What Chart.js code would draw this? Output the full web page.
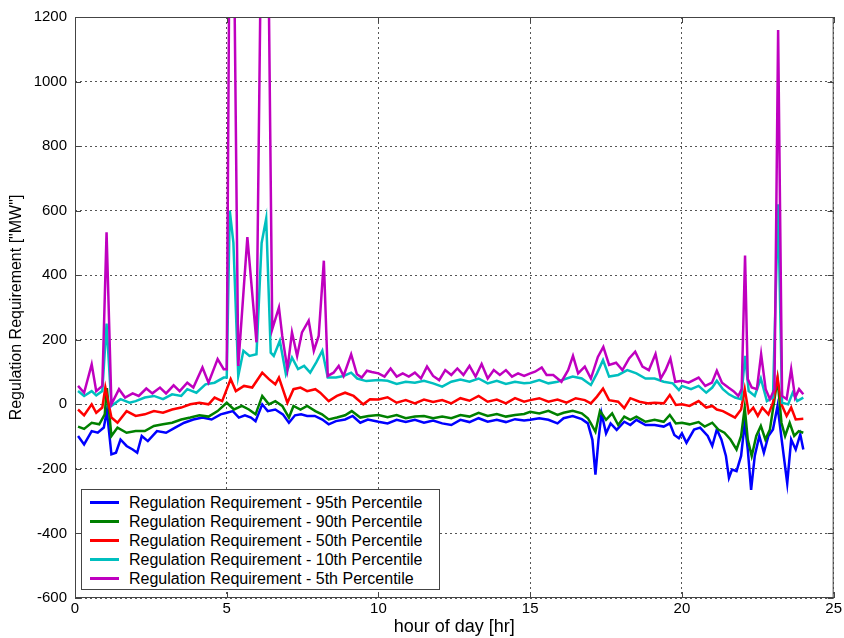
<!DOCTYPE html>
<html>
<head>
<meta charset="utf-8">
<script src="https://cdn.jsdelivr.net/npm/chart.js@4.4.1/dist/chart.umd.min.js"></script>
<style>
  body { margin: 0; background: #fff; }
  #wrap { position: relative; width: 844px; height: 638px; }
  #legend {
    position: absolute; left: 81px; top: 489px; width: 359px; height: 101px;
    border: 1px solid #444; background: #fff; box-sizing: border-box;
    font-family: "Liberation Sans", Arial, sans-serif; font-size: 16px; color: #000;
    padding-top: 3px;
  }
  #legend div { height: 19px; line-height: 19px; display: flex; align-items: center; white-space: nowrap; }
  #legend span.swatch { display: inline-block; width: 29px; height: 3px; margin-left: 8px; margin-right: 10px; }
</style>
</head>
<body>
<div id="wrap">
  <canvas id="reg" width="844" height="638"></canvas>
  <div id="legend"></div>
</div>
<script>
// [hour, MW] pairs
const p95 = [[0.1,-98],[0.3,-124],[0.55,-83],[0.75,-88],[0.95,-72],[1.05,-20],[1.2,-155],[1.35,-150],[1.5,-109],[1.7,-129],[1.9,-140],[2.05,-150],[2.2,-98],[2.4,-114],[2.7,-83],[3.0,-88],[3.3,-72],[3.6,-57],[3.9,-47],[4.2,-41],[4.5,-47],[4.8,-31],[5.0,-26],[5.2,-21],[5.4,-41],[5.6,-34],[5.8,-41],[5.95,-52],[6.17,0],[6.35,-21],[6.6,-16],[6.85,-31],[7.05,-57],[7.25,-34],[7.45,-31],[7.65,-36],[7.9,-36],[8.15,-47],[8.36,-62],[8.6,-52],[8.9,-47],[9.15,-36],[9.4,-57],[9.65,-47],[10.0,-54],[10.3,-59],[10.6,-48],[10.9,-55],[11.2,-48],[11.5,-57],[11.8,-50],[12.1,-59],[12.4,-64],[12.7,-48],[13.0,-55],[13.3,-43],[13.6,-54],[13.9,-48],[14.2,-55],[14.5,-46],[14.8,-50],[15.0,-48],[15.3,-43],[15.6,-48],[15.9,-59],[16.1,-43],[16.4,-36],[16.7,-46],[16.9,-59],[17.05,-110],[17.15,-218],[17.25,-110],[17.35,-28],[17.5,-90],[17.65,-59],[17.85,-79],[18.1,-54],[18.3,-64],[18.5,-48],[18.8,-64],[19.1,-64],[19.4,-69],[19.6,-59],[19.75,-95],[19.9,-105],[20.0,-90],[20.15,-119],[20.4,-78],[20.6,-72],[20.85,-98],[21.0,-129],[21.15,-78],[21.3,-109],[21.45,-160],[21.55,-228],[21.65,-202],[21.8,-207],[21.95,-160],[22.07,-57],[22.17,-140],[22.28,-265],[22.4,-160],[22.55,-98],[22.7,-150],[22.85,-98],[23.0,-78],[23.15,-5],[23.3,-119],[23.47,-245],[23.6,-109],[23.75,-140],[23.9,-93],[24.0,-140]];
const p90 = [[0.1,-69],[0.3,-76],[0.55,-57],[0.8,-62],[0.98,-31],[1.05,50],[1.2,-98],[1.4,-72],[1.7,-88],[2.0,-83],[2.3,-83],[2.6,-67],[2.9,-62],[3.2,-57],[3.5,-47],[3.8,-41],[4.1,-34],[4.4,-38],[4.7,-21],[5.0,5],[5.24,-16],[5.5,-5],[5.73,-16],[5.95,-31],[6.17,26],[6.39,0],[6.6,10],[6.83,-5],[7.05,-41],[7.2,-5],[7.43,-16],[7.65,-5],[7.92,-21],[8.14,-31],[8.36,-47],[8.63,-41],[8.9,-34],[9.12,-21],[9.4,-41],[9.67,-36],[10.0,-33],[10.3,-40],[10.6,-33],[10.9,-43],[11.2,-38],[11.5,-36],[11.8,-43],[12.1,-38],[12.4,-43],[12.7,-33],[13.0,-38],[13.3,-26],[13.6,-36],[13.9,-30],[14.2,-38],[14.5,-33],[14.8,-30],[15.0,-23],[15.3,-28],[15.6,-20],[15.9,-33],[16.1,-26],[16.4,-20],[16.7,-28],[16.9,-43],[17.0,-59],[17.15,-85],[17.3,-20],[17.5,-48],[17.7,-28],[17.9,-64],[18.1,-38],[18.3,-48],[18.5,-38],[18.8,-54],[19.1,-48],[19.4,-54],[19.6,-33],[19.8,-59],[20.0,-57],[20.25,-62],[20.55,-55],[20.75,-69],[21.0,-57],[21.2,-78],[21.4,-88],[21.6,-109],[21.8,-140],[21.95,-98],[22.07,-10],[22.17,-109],[22.3,-160],[22.45,-98],[22.6,-67],[22.75,-109],[22.9,-78],[23.15,78],[23.28,-57],[23.4,-98],[23.55,-57],[23.7,-98],[23.85,-83],[24.0,-88]];
const p50 = [[0.1,-16],[0.3,-34],[0.55,0],[0.7,-26],[0.9,-10],[1.0,52],[1.2,-41],[1.4,-57],[1.7,-21],[2.0,-36],[2.3,-31],[2.6,-21],[2.9,-26],[3.2,-16],[3.5,-10],[3.8,0],[4.1,5],[4.4,0],[4.6,21],[4.85,10],[5.13,78],[5.3,41],[5.57,57],[5.84,52],[6.17,98],[6.39,78],[6.6,62],[6.72,83],[7.0,5],[7.2,47],[7.43,52],[7.65,41],[7.92,47],[8.08,36],[8.36,10],[8.63,26],[8.9,36],[9.18,26],[9.5,0],[9.72,16],[10.0,15],[10.3,22],[10.6,5],[10.9,13],[11.2,3],[11.5,15],[11.8,7],[12.1,13],[12.4,3],[12.7,19],[13.0,11],[13.3,26],[13.6,8],[13.9,15],[14.2,3],[14.5,19],[14.8,8],[15.0,13],[15.3,19],[15.6,8],[15.9,15],[16.2,5],[16.5,19],[16.8,13],[17.0,3],[17.2,24],[17.4,49],[17.6,13],[17.9,8],[18.1,-12],[18.3,19],[18.6,8],[18.9,3],[19.1,5],[19.4,3],[19.6,29],[19.8,-2],[20.0,0],[20.25,-5],[20.55,10],[20.8,-10],[21.0,-5],[21.15,-16],[21.35,-21],[21.55,-31],[21.75,-41],[21.95,-16],[22.07,47],[22.2,-26],[22.35,-10],[22.5,-36],[22.65,-10],[22.85,-31],[23.0,5],[23.15,83],[23.28,0],[23.45,-36],[23.6,-10],[23.75,-47],[24.0,-45]];
const p10 = [[0.1,41],[0.3,26],[0.55,41],[0.7,28],[0.9,41],[1.04,250],[1.2,-5],[1.5,16],[1.8,5],[2.0,10],[2.3,21],[2.6,26],[2.9,16],[3.2,31],[3.5,26],[3.7,47],[4.0,36],[4.3,62],[4.6,67],[4.9,83],[5.0,83],[5.1,600],[5.22,500],[5.38,88],[5.55,166],[5.75,150],[5.98,155],[6.15,500],[6.3,575],[6.45,160],[6.55,150],[6.75,197],[6.95,93],[7.15,145],[7.35,109],[7.55,119],[7.75,98],[7.95,130],[8.15,166],[8.33,83],[8.6,83],[8.85,88],[9.1,98],[9.3,80],[9.6,72],[10.0,75],[10.3,73],[10.6,63],[10.9,70],[11.2,67],[11.5,73],[11.8,65],[12.1,55],[12.4,70],[12.7,77],[13.0,70],[13.3,80],[13.6,65],[13.9,73],[14.2,63],[14.5,70],[14.8,65],[15.0,67],[15.3,75],[15.6,65],[15.9,70],[16.1,77],[16.4,86],[16.7,80],[17.0,60],[17.2,96],[17.4,137],[17.6,86],[17.9,91],[18.2,106],[18.5,96],[18.8,80],[19.1,80],[19.4,70],[19.7,65],[19.9,44],[20.0,57],[20.3,47],[20.55,57],[20.8,36],[21.0,52],[21.15,73],[21.35,47],[21.55,31],[21.75,21],[21.95,16],[22.08,150],[22.2,41],[22.4,26],[22.6,80],[22.8,10],[23.0,21],[23.17,620],[23.3,5],[23.5,0],[23.65,36],[23.8,10],[24.0,21]];
const p5 = [[0.1,57],[0.3,36],[0.55,124],[0.7,41],[0.9,57],[1.04,533],[1.2,0],[1.45,47],[1.65,21],[1.9,34],[2.1,26],[2.35,49],[2.55,34],[2.8,52],[3.0,34],[3.25,59],[3.45,41],[3.7,67],[3.9,52],[4.2,114],[4.4,67],[4.7,140],[4.9,109],[5.0,109],[5.1,1600],[5.22,1600],[5.38,119],[5.68,518],[5.98,192],[6.15,1600],[6.35,1600],[6.5,233],[6.72,300],[6.83,212],[7.0,109],[7.15,223],[7.32,150],[7.48,223],[7.7,259],[7.87,166],[8.03,212],[8.2,445],[8.33,88],[8.52,98],[8.69,119],[8.85,88],[9.1,155],[9.29,93],[9.45,83],[9.62,104],[9.78,100],[10.0,96],[10.2,86],[10.4,111],[10.6,86],[10.8,96],[11.0,86],[11.2,98],[11.4,80],[11.6,117],[11.8,88],[12.0,75],[12.2,106],[12.4,91],[12.6,111],[12.8,91],[13.0,119],[13.2,86],[13.4,125],[13.6,80],[13.8,106],[14.0,91],[14.2,106],[14.4,86],[14.6,96],[14.8,88],[15.0,96],[15.16,101],[15.38,114],[15.54,91],[15.76,91],[16.03,70],[16.25,106],[16.41,150],[16.58,96],[16.8,117],[17.0,80],[17.23,147],[17.41,178],[17.6,122],[17.83,129],[18.04,106],[18.26,142],[18.46,163],[18.7,117],[18.91,106],[19.13,156],[19.3,80],[19.46,106],[19.62,142],[19.78,70],[20.0,73],[20.22,67],[20.55,83],[20.77,57],[20.99,67],[21.15,104],[21.32,67],[21.53,52],[21.7,41],[21.86,26],[21.97,47],[22.08,461],[22.17,78],[22.3,52],[22.47,47],[22.61,155],[22.76,47],[22.9,16],[23.05,47],[23.17,1160],[23.3,26],[23.45,16],[23.6,109],[23.73,21],[23.86,47],[24.0,31]];

const seriesLabels = [
  "Regulation Requirement - 95th Percentile",
  "Regulation Requirement - 90th Percentile",
  "Regulation Requirement - 50th Percentile",
  "Regulation Requirement - 10th Percentile",
  "Regulation Requirement - 5th Percentile",
];
const seriesColors = ["#0000ff", "#008000", "#ff0000", "#00bfbf", "#bf00bf"];
const seriesData = [p95, p90, p50, p10, p5];

const xTicks = [0, 5, 10, 15, 20, 25];
const yTicks = [-600, -400, -200, 0, 200, 400, 600, 800, 1000, 1200];

const FONT = "'Liberation Sans', Arial, sans-serif";

// MATLAB style box with inward tick marks
const boxPlugin = {
  id: "box",
  afterDraw(chart) {
    const { ctx, chartArea: a, scales } = chart;
    ctx.save();
    ctx.strokeStyle = "#444";
    ctx.lineWidth = 1;
    ctx.strokeRect(a.left + 0.5, a.top + 0.5, a.right - a.left - 1, a.bottom - a.top - 1);
    ctx.beginPath();
    xTicks.forEach((t) => {
      const px = Math.round(scales.x.getPixelForValue(t)) + 0.5;
      ctx.moveTo(px, a.bottom); ctx.lineTo(px, a.bottom - 6);
      ctx.moveTo(px, a.top); ctx.lineTo(px, a.top + 6);
    });
    yTicks.forEach((t) => {
      const py = Math.round(scales.y.getPixelForValue(t)) + 0.5;
      ctx.moveTo(a.left, py); ctx.lineTo(a.left + 6, py);
      ctx.moveTo(a.right, py); ctx.lineTo(a.right - 6, py);
    });
    ctx.stroke();
    ctx.restore();
  },
};

function buildLegend() {
  const box = document.getElementById("legend");
  seriesLabels.forEach((label, i) => {
    const row = document.createElement("div");
    const sw = document.createElement("span");
    sw.className = "swatch";
    sw.style.background = seriesColors[i];
    row.appendChild(sw);
    row.appendChild(document.createTextNode(label));
    box.appendChild(row);
  });
}

document.addEventListener("DOMContentLoaded", () => {
  buildLegend();
  const ctx = document.getElementById("reg").getContext("2d");
  new Chart(ctx, {
    type: "line",
    data: {
      datasets: seriesData.map((d, i) => ({
        label: seriesLabels[i],
        data: d.map(([x, y]) => ({ x, y })),
        borderColor: seriesColors[i],
        borderWidth: 2.5,
        pointRadius: 0,
        tension: 0,
        fill: false,
        order: 5 - i,
      })),
    },
    options: {
      responsive: false,
      animation: false,
      layout: { padding: { left: 0, top: 15, right: 9, bottom: 0 } },
      plugins: { legend: { display: false }, tooltip: { enabled: false } },
      scales: {
        x: {
          type: "linear",
          min: 0,
          max: 25,
          afterBuildTicks: (s) => { s.ticks = xTicks.map((v) => ({ value: v })); },
          afterFit: (s) => { s.height = 40; },
          ticks: { color: "#000", font: { family: FONT, size: 15 }, padding: 2, maxRotation: 0, callback: (v) => String(v) },
          grid: { color: "#555", lineWidth: 1, drawTicks: false },
          border: { display: false, dash: [2, 3] },
          title: {
            display: true,
            text: "hour of day [hr]",
            color: "#000",
            font: { family: FONT, size: 18 },
            padding: { top: 0, bottom: 0 },
          },
        },
        y: {
          min: -600,
          max: 1200,
          afterBuildTicks: (s) => { s.ticks = yTicks.map((v) => ({ value: v })); },
          afterFit: (s) => { s.width = 75; },
          ticks: { color: "#000", font: { family: FONT, size: 15 }, padding: 8, callback: (v) => String(v) },
          grid: { color: "#555", lineWidth: 1, drawTicks: false },
          border: { display: false, dash: [2, 3] },
          title: {
            display: true,
            text: 'Regulation Requirement ["MW"]',
            color: "#000",
            font: { family: FONT, size: 16 },
            padding: { top: 7, bottom: 0 },
          },
        },
      },
    },
    plugins: [boxPlugin],
  });
});
</script>
</body>
</html>
